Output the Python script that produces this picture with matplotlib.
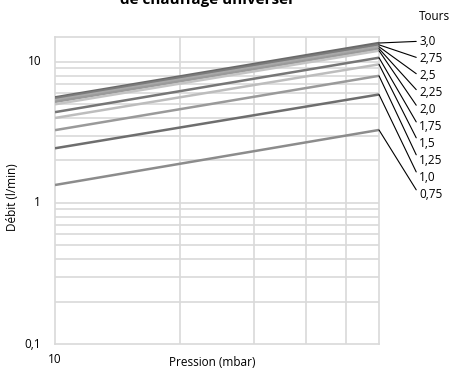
import matplotlib
matplotlib.use("Agg")
import matplotlib.pyplot as plt
import numpy as np

plt.rcParams['font.family'] = ['Open Sans', 'DejaVu Sans']

# Data: flow (l/min) at 10 and 60 mbar for each number of turns
pressure = [10, 60]
tours_labels = ["3,0", "2,75", "2,5", "2,25", "2,0", "1,75", "1,5", "1,25", "1,0", "0,75"]
flow_10 = [5.6, 5.5, 5.35, 5.2, 5.0, 4.4, 4.0, 3.28, 2.44, 1.34]
flow_60 = [13.6, 13.2, 12.8, 12.4, 12.0, 10.7, 9.6, 7.96, 5.87, 3.29]
line_colors = ['#6a6a6a', '#7c7c7c', '#a8a8a8', '#9a9a9a', '#c4c4c4',
               '#767676', '#bdbdbd', '#9a9a9a', '#6e6e6e', '#8c8c8c']

W, H = 449, 369
fig = plt.figure(figsize=(W/100, H/100), dpi=100)
ax = fig.add_axes([55/W, 1-344/H, (379-55)/W, (344-37)/H])
ax.set_xscale('log')
ax.set_yscale('log')
ax.set_xlim(10, 60)
ax.set_ylim(0.1, 15)

grid_c = '#d9d9d9'
for v in [20, 30, 40, 50]:
    ax.axvline(v, color=grid_c, lw=1.2, zorder=1)
for dec in [0.1, 1, 10]:
    for m in range(1, 10):
        val = dec * m
        if 0.1 < val < 15:
            ax.axhline(val, color=grid_c, lw=1.2, zorder=1)
for s in ax.spines.values():
    s.set_color(grid_c)
    s.set_linewidth(1.2)

for f10, f60, c in zip(flow_10, flow_60, line_colors):
    ax.plot(pressure, [f10, f60], color=c, lw=1.8, zorder=3, solid_capstyle='butt')

ax.set_xticks([])
ax.set_yticks([])
ax.minorticks_off()
ax.tick_params(which='both', length=0)

fs = 8.5
# y tick labels
for val, txt in [(10, "10"), (1, "1"), (0.1, "0,1")]:
    ax.annotate(txt, xy=(0, val), xycoords=('axes fraction', 'data'),
                xytext=(-10, 0), textcoords='offset points',
                ha='right', va='center', fontsize=fs)
ax.annotate("10", xy=(10, 0.1), xycoords='data', xytext=(0, -11),
            textcoords='offset points', ha='center', va='center', fontsize=fs)

fig.text(212/W, 1-363/H, "Pression (mbar)", ha='center', va='center', fontsize=fs)
fig.text(12/W, 1-197/H, "Débit (l/min)", ha='center', va='center',
         rotation=90, fontsize=fs)
fig.text(434/W, 1-17/H, "Tours", ha='center', va='center', fontsize=fs)
fig.text(120/W, 1-4/H, "de chauffage universel", ha='left', va='baseline',
         fontsize=11, fontweight='bold')

# leader lines and labels
label_y_px = [41.3, 58.3, 75.7, 92.7, 109.3, 126.7, 143.3, 160.7, 177.7, 194.3]
for txt, f60, ly in zip(tours_labels, flow_60, label_y_px):
    ax.annotate(txt, xy=(60, f60), xycoords='data',
                xytext=(419/W, 1-ly/H), textcoords='figure fraction',
                ha='left', va='center', fontsize=fs,
                arrowprops=dict(arrowstyle='-', color='black', lw=0.8,
                                shrinkA=0, shrinkB=0,
                                relpos=(0, 0.5)),
                annotation_clip=False)

fig.savefig("out.png", dpi=100)
